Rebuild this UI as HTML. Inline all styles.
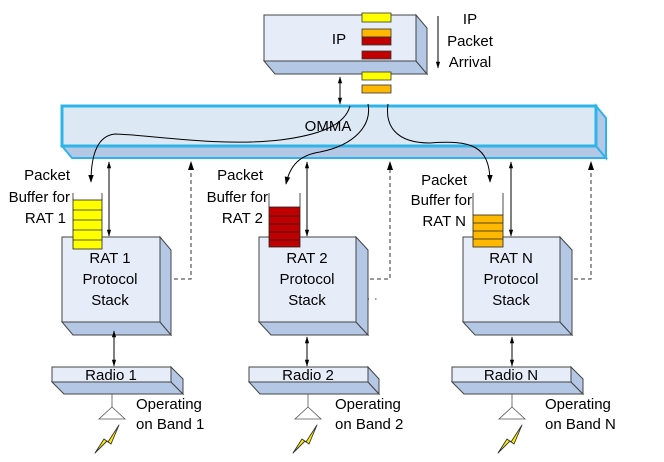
<!DOCTYPE html>
<html><head><meta charset="utf-8"><style>
html,body{margin:0;padding:0;background:#fff;}
svg{display:block;font-family:"Liberation Sans",Arial,sans-serif;}
</style></head><body>
<svg width="664" height="462" viewBox="0 0 664 462" xmlns="http://www.w3.org/2000/svg">
<defs>
<marker id="ah" viewBox="0 0 10 10" refX="9" refY="5" markerWidth="8" markerHeight="8" orient="auto-start-reverse"><path d="M0,1.5 L10,5 L0,8.5 z" fill="#000"/></marker>
<marker id="ahs" viewBox="0 0 10 10" refX="9" refY="5" markerWidth="7" markerHeight="7" orient="auto-start-reverse"><path d="M0,2 L10,5 L0,8 z" fill="#000"/></marker>
<g id="bolt"><polygon points="0,28 9,14 13,17 24,0 16,19 12,16" fill="#ffee00" stroke="#333" stroke-width="0.9" stroke-linejoin="round"/></g>
</defs>

<!-- IP box -->
<polygon points="264,61 416,61 427,74 275,74" fill="#b4c8e6" stroke="#444"/>
<polygon points="416,15 427,28 427,74 416,61" fill="#b4c8e6" stroke="#444"/>
<rect x="264" y="15" width="152" height="46" fill="#e6edf8" stroke="#444"/>
<text x="339" y="44" font-size="15" text-anchor="middle">IP</text>
<g stroke="#333" stroke-width="0.8">
<rect x="362" y="13" width="29" height="9" fill="#ffff00"/>
<rect x="362" y="29" width="29" height="8" fill="#ffb800"/>
<rect x="362" y="37" width="29" height="8" fill="#c00000"/>
<rect x="362" y="51" width="29" height="8" fill="#c00000"/>
<rect x="362" y="72" width="29" height="8" fill="#ffff00"/>
<rect x="362" y="85" width="29" height="8" fill="#ffb800"/>
</g>
<line x1="438" y1="16" x2="438" y2="68" stroke="#000" marker-end="url(#ahs)"/>
<g font-size="15" text-anchor="middle"><text x="470" y="24">IP</text><text x="470" y="46">Packet</text><text x="470" y="67">Arrival</text></g>
<line x1="340" y1="77" x2="340" y2="104" stroke="#000" marker-start="url(#ahs)" marker-end="url(#ahs)"/>

<!-- OMMA -->
<polygon points="62,146 596,146 606,158 72,158" fill="#b4c8e6" stroke="#2eb4e8" stroke-width="2"/>
<polygon points="596,106 606,118 606,158 596,146" fill="#b4c8e6" stroke="#2eb4e8" stroke-width="2"/>
<rect x="62" y="106" width="534" height="40" fill="#dde8f5" stroke="#2eb4e8" stroke-width="3"/>
<text x="328" y="131" font-size="15" text-anchor="middle">OMMA</text>

<!-- curves -->
<g fill="none" stroke="#000" stroke-width="1">
<path d="M350,106 C345,125 320,135 280,140 C220,147 150,135 115,134 C95,136 91,160 91,182" marker-end="url(#ah)"/>
<path d="M368,104 C372,125 355,145 320,152 C300,155 290,165 286,184" marker-end="url(#ah)"/>
<path d="M388,104 C385,125 395,143 430,143 C470,140 490,145 490,182" marker-end="url(#ah)"/>
</g>

<!-- vertical double arrows -->
<g stroke="#000" stroke-width="1">
<line x1="109" y1="162" x2="109" y2="236" marker-start="url(#ahs)" marker-end="url(#ahs)"/>
<line x1="307" y1="162" x2="307" y2="236" marker-start="url(#ahs)" marker-end="url(#ahs)"/>
<line x1="511" y1="162" x2="511" y2="236" marker-start="url(#ahs)" marker-end="url(#ahs)"/>
</g>
<g stroke="#333" stroke-width="1" stroke-dasharray="4,3" fill="none">
<polyline points="160,279 191,279 191,166"/>
<polyline points="356,279 390,279 390,166"/>
<polyline points="560,279 591,279 591,166"/>
<line x1="360" y1="299" x2="378" y2="299" stroke-dasharray="1.5,6"/>
</g>
<g fill="#000">
<path d="M191,161 L188,170 L194,170z"/><path d="M390,161 L387,170 L393,170z"/><path d="M591,161 L588,170 L594,170z"/>
</g>

<!-- labels -->
<g font-size="15" text-anchor="end">
<text x="70" y="180">Packet</text><text x="70" y="202">Buffer for</text><text x="66" y="223">RAT 1</text>
<text x="263" y="180">Packet</text><text x="268" y="202">Buffer for</text><text x="263" y="223">RAT 2</text>
<text x="467" y="185">Packet</text><text x="472" y="205">Buffer for</text><text x="466" y="226">RAT N</text>
</g>

<!-- RAT boxes -->
<g stroke="#444" stroke-width="1">
<polygon points="62,322 160,322 171,335 73,335" fill="#b4c8e6"/>
<polygon points="160,237 171,250 171,335 160,322" fill="#b4c8e6"/>
<rect x="62" y="237" width="98" height="85" fill="#e6edf8"/>
<polygon points="259,322 356,322 368,335 271,335" fill="#b4c8e6"/>
<polygon points="356,237 368,250 368,335 356,322" fill="#b4c8e6"/>
<rect x="259" y="237" width="97" height="85" fill="#e6edf8"/>
<polygon points="463,322 560,322 572,335 475,335" fill="#b4c8e6"/>
<polygon points="560,237 572,250 572,335 560,322" fill="#b4c8e6"/>
<rect x="463" y="237" width="97" height="85" fill="#e6edf8"/>
</g>
<!-- buffers -->
<g stroke="#222" stroke-width="0.8">
<rect x="73" y="200" width="29" height="49" fill="#ffff00"/>
<line x1="73" y1="210" x2="102" y2="210"/><line x1="73" y1="220" x2="102" y2="220"/><line x1="73" y1="230" x2="102" y2="230"/><line x1="73" y1="240" x2="102" y2="240"/>
<rect x="269" y="207" width="31" height="40" fill="#c00000"/>
<line x1="269" y1="216" x2="300" y2="216"/><line x1="269" y1="224" x2="300" y2="224"/><line x1="269" y1="232" x2="300" y2="232"/><line x1="269" y1="240" x2="300" y2="240"/>
<rect x="473" y="215" width="30" height="32" fill="#ffb800"/>
<line x1="473" y1="223" x2="503" y2="223"/><line x1="473" y1="231" x2="503" y2="231"/><line x1="473" y1="239" x2="503" y2="239"/>
<line x1="73" y1="193" x2="73" y2="200"/><line x1="102" y1="193" x2="102" y2="200"/>
<line x1="269" y1="193" x2="269" y2="207"/><line x1="300" y1="193" x2="300" y2="207"/>
<line x1="473" y1="193" x2="473" y2="215"/><line x1="503" y1="193" x2="503" y2="215"/>
</g>
<g font-size="15" text-anchor="middle">
<text x="110" y="263">RAT 1</text><text x="110" y="284">Protocol</text><text x="110" y="305">Stack</text>
<text x="307" y="263">RAT 2</text><text x="307" y="284">Protocol</text><text x="307" y="305">Stack</text>
<text x="511" y="263">RAT N</text><text x="511" y="284">Protocol</text><text x="511" y="305">Stack</text>
</g>

<!-- radio links -->
<g stroke="#000">
<line x1="114" y1="331" x2="114" y2="366" marker-start="url(#ahs)" marker-end="url(#ahs)"/>
<line x1="307" y1="337" x2="307" y2="366" marker-start="url(#ahs)" marker-end="url(#ahs)"/>
<line x1="512" y1="337" x2="512" y2="366" marker-start="url(#ahs)" marker-end="url(#ahs)"/>
</g>
<!-- radios -->
<g stroke="#444">
<polygon points="52,382 171,382 183,394 64,394" fill="#b4c8e6"/>
<polygon points="171,367 183,379 183,394 171,382" fill="#b4c8e6"/>
<rect x="52" y="367" width="119" height="15" fill="#e6edf8"/>
<polygon points="249,382 368,382 379,394 260,394" fill="#b4c8e6"/>
<polygon points="368,367 379,379 379,394 368,382" fill="#b4c8e6"/>
<rect x="249" y="367" width="119" height="15" fill="#e6edf8"/>
<polygon points="452,382 571,382 583,394 464,394" fill="#b4c8e6"/>
<polygon points="571,367 583,379 583,394 571,382" fill="#b4c8e6"/>
<rect x="452" y="367" width="119" height="15" fill="#e6edf8"/>
</g>
<g font-size="15" text-anchor="middle">
<text x="111" y="380">Radio 1</text><text x="308" y="380">Radio 2</text><text x="511" y="380">Radio N</text>
</g>
<!-- antennas -->
<g stroke="#555" fill="#fff" stroke-width="0.8">
<line x1="112" y1="394" x2="112" y2="407"/><polygon points="112,407 99,419 125,419"/>
<line x1="308" y1="394" x2="308" y2="407"/><polygon points="308,407 295,419 321,419"/>
<line x1="512" y1="394" x2="512" y2="407"/><polygon points="512,407 499,419 525,419"/>
</g>
<use href="#bolt" x="95" y="425"/>
<use href="#bolt" x="293" y="425"/>
<use href="#bolt" x="498" y="425"/>
<g font-size="15">
<text x="136" y="409">Operating</text><text x="136" y="429">on Band 1</text>
<text x="335" y="409">Operating</text><text x="335" y="429">on Band 2</text>
<text x="545" y="409">Operating</text><text x="545" y="429">on Band N</text>
</g>
</svg>
</body></html>
